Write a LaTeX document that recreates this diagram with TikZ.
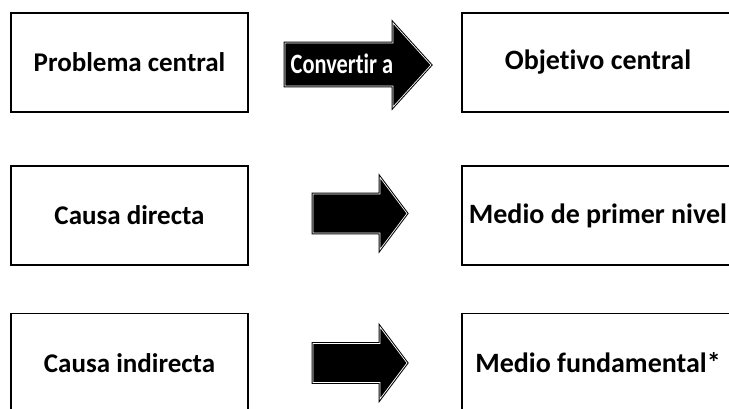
\documentclass[tikz,border=0pt]{standalone}
\usepackage{fontspec}
\setmainfont{Carlito}[Ligatures=NoCommon]
\usepackage{graphicx}

\tikzset{
    box/.style={draw, line width=1.6pt, minimum width=237pt, minimum height=99pt,
        inner sep=0pt, font=\fontsize{27}{32}\selectfont\bfseries},
    outbox/.style={box, minimum width=272pt,
        font=\fontsize{28}{33}\selectfont\bfseries},
    blockarrow/.style={draw=black, line width=1pt, double=white,
        double distance=0.7pt, fill=black, line join=miter},
    arrowtext/.style={text=white, inner sep=0pt,
        font=\fontsize{28}{32}\selectfont\bfseries},
}

\begin{document}
\begin{tikzpicture}[x=1pt, y=1pt]
    \clip (0,0) rectangle (729,409);
    \begin{scope} % Problem and causes
        \node[box] (problema) at (129.5,346.5) {Problema central};
        \node[box] (directa) at (129.5,193.5) {Causa directa};
        \node[box] (indirecta) at (129.5,46) {Causa indirecta};
    \end{scope}
    \begin{scope} % Objective and means
        \node[outbox] (objetivo) at (598,346.5) {Objetivo central};
        \node[outbox] (primer) at (598,193.5) {Medio de primer nivel};
        \node[outbox] (fundamental) at (598,46) {Medio fundamental*};
    \end{scope}
    \begin{scope} % Block arrows
        \draw[blockarrow] (285,366) -- (393,366) -- (393,386) --
            (431,344) -- (393,302) -- (393,323) -- (285,323) -- cycle;
        \node[arrowtext] (convertir) at (342,345)
            {\scalebox{0.8}[1]{Convertir a}};
        \foreach \y in {195.5,46}
            \draw[blockarrow] (313,\y+19.5) -- (380,\y+19.5) -- (380,\y+36) --
                (407,\y) -- (380,\y-36) -- (380,\y-19.5) -- (313,\y-19.5) -- cycle;
    \end{scope}
\end{tikzpicture}
\end{document}
